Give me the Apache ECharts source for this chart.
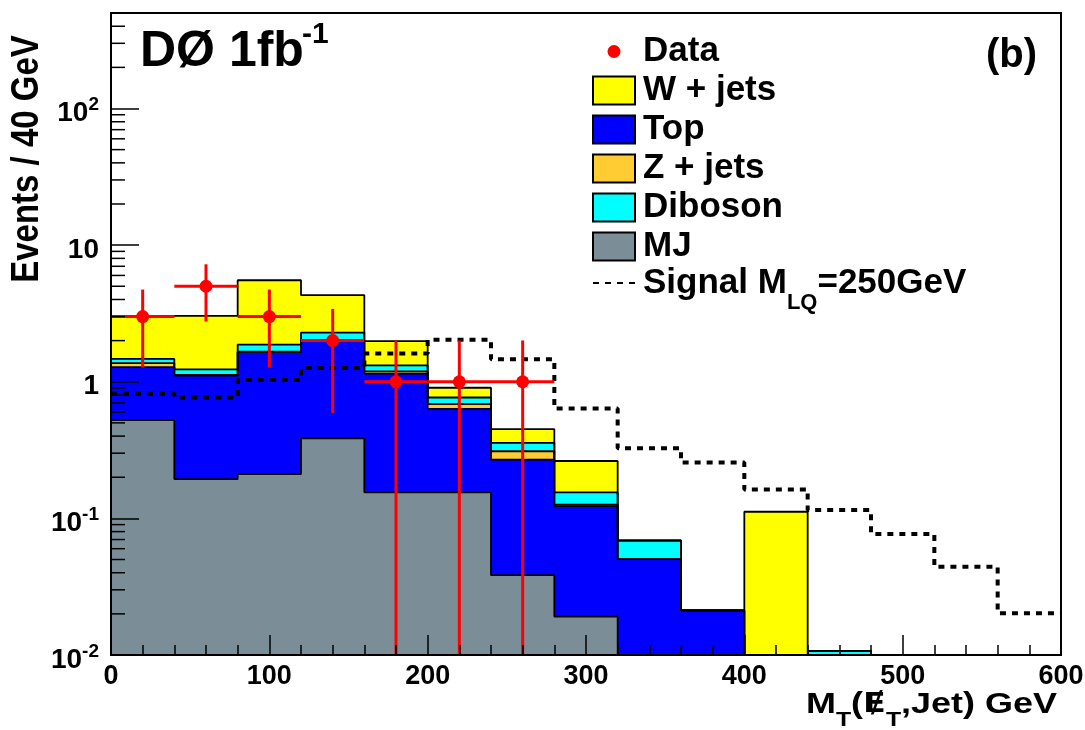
<!DOCTYPE html>
<html>
<head>
<meta charset="utf-8">
<script src="https://cdn.jsdelivr.net/npm/echarts@6/dist/echarts.min.js"></script>
<style>
  html, body { margin: 0; padding: 0; background: #fff; }
  #chart { width: 1085px; height: 730px; }
</style>
</head>
<body>
<div id="chart"></div>
<script>
// Bin edges of the transverse-mass histogram (GeV)
const binEdges = [0, 40, 80, 120, 160, 200, 240, 280, 320, 360, 400, 440, 480, 520, 560, 600];

// Background components, events per 40 GeV bin (stack order: bottom to top)
const mjBkg      = [0.524, 0.194, 0.211, 0.386, 0.155, 0.155, 0.0384, 0.0191, 0, 0, 0, 0, 0, 0, 0];
const topBkg     = [0.756, 0.916, 1.439, 1.594, 0.99, 0.479, 0.2306, 0.1039, 0.0503, 0.0212, 0, 0, 0, 0, 0];
const zjetsBkg   = [0.09, 0.01, 0.01, 0.01, 0.045, 0.052, 0.041, 0.003, 0, 0, 0, 0, 0, 0, 0];
const dibosonBkg = [0.10, 0.11, 0.21, 0.30, 0.127, 0.081, 0.047, 0.029, 0.0186, 0, 0, 0.0107, 0, 0, 0];
const wjetsBkg   = [1.56, 1.80, 3.66, 2.01, 0.663, 0.137, 0.093, 0.108, 0, 0, 0.1118, 0, 0, 0, 0];

// Leptoquark signal, M_LQ = 250 GeV
const signalLQ = [0.817, 0.767, 1.03, 1.26, 1.61, 2.03, 1.46, 0.636, 0.326, 0.256, 0.163, 0.115, 0.077, 0.0442, 0.0202];

// Observed data (bin centres, counts, statistical errors)
const dataX      = [20, 60, 100, 140, 180, 220, 260];
const dataCounts = [3, 5, 3, 2, 1, 1, 1];
const dataErrLo  = [1.73, 2.24, 1.73, 1.41, 1, 1, 1];
const dataErrHi  = [1.73, 2.24, 1.73, 1.41, 1, 1, 1];

// Minor tick values on the logarithmic axis
const yMinorTicks = [0.02, 0.03, 0.04, 0.05, 0.06, 0.07, 0.08, 0.09,
                     0.2, 0.3, 0.4, 0.5, 0.6, 0.7, 0.8, 0.9,
                     2, 3, 4, 5, 6, 7, 8, 9,
                     20, 30, 40, 50, 60, 70, 80, 90,
                     200, 300, 400];

const Y_MIN = 0.01, Y_MAX = 500;
const FONT = '"Liberation Sans", Arial, Helvetica, sans-serif';
const SIGNAL_NAME = 'Signal MLQ=250GeV';

const COLORS = {
  wjets: '#ffff00',
  top: '#0000ff',
  zjets: '#ffcc33',
  diboson: '#00ffff',
  mj: '#7b8e98',
  data: '#ff0000'
};

// cumulative stack levels
function addArrays(...arrs) {
  return arrs[0].map((_, i) => arrs.reduce((s, a) => s + a[i], 0));
}
const cumMJ  = mjBkg.slice();
const cumTop = addArrays(mjBkg, topBkg);
const cumZ   = addArrays(mjBkg, topBkg, zjetsBkg);
const cumDib = addArrays(mjBkg, topBkg, zjetsBkg, dibosonBkg);
const cumW   = addArrays(mjBkg, topBkg, zjetsBkg, dibosonBkg, wjetsBkg);

// histogram contour as step points at the left bin edges, closed at the last edge
function stepPoints(vals) {
  const pts = vals.map((v, i) => [binEdges[i], Math.max(v, Y_MIN)]);
  pts.push([binEdges[binEdges.length - 1], Math.max(vals[vals.length - 1], Y_MIN)]);
  return pts;
}

function stackLayer(name, vals, color) {
  return {
    type: 'line',
    name: name,
    data: stepPoints(vals),
    step: 'end',
    symbol: 'none',
    showSymbol: false,
    silent: true,
    z: 2,
    itemStyle: { color: color },
    lineStyle: { color: '#000', width: 1.8 },
    areaStyle: { color: color, opacity: 1, origin: 'start' }
  };
}

const halfBin = (binEdges[1] - binEdges[0]) / 2;

const chart = echarts.init(document.getElementById('chart'), null, { renderer: 'canvas' });

function yLabel(v) {
  const e = Math.round(Math.log10(v));
  if (Math.abs(Math.log10(v) - e) > 1e-6) return '';
  if (e === 0) return '{b|1}';
  if (e === 1) return '{b|10}';
  return '{b|10}{sup|' + e + '}';
}

const legendText = {
  fontFamily: FONT, fontWeight: 'bold', fontSize: 35, color: '#000', lineHeight: 28,
  padding: [0, 0, 0, 3],
  rich: {
    sub: { fontFamily: FONT, fontWeight: 'bold', fontSize: 22, color: '#000', lineHeight: 22, padding: [40, 0, 0, 0] }
  }
};

const option = {
  animation: false,
  backgroundColor: '#fff',
  grid: {
    left: 111, right: 24, top: 13, bottom: 75,
    show: true, borderColor: '#000', borderWidth: 2, backgroundColor: 'transparent',
    containLabel: false, outerBoundsMode: 'none'
  },
  xAxis: {
    type: 'value', min: 0, max: 600, interval: 100, z: 10,
    axisLine: { show: true, lineStyle: { color: '#000', width: 2 } },
    axisTick: { show: true, inside: true, length: 20, lineStyle: { color: '#000', width: 1.5 } },
    minorTick: { show: true, splitNumber: 5, length: 10, lineStyle: { color: '#000', width: 1.5 } },
    splitLine: { show: false },
    axisLabel: { fontFamily: FONT, fontWeight: 'bold', fontSize: 27, color: '#000', margin: 8 }
  },
  yAxis: {
    type: 'log', logBase: 10, min: Y_MIN, max: Y_MAX, z: 10,
    axisLine: { show: true, lineStyle: { color: '#000', width: 2 } },
    axisTick: { show: true, inside: true, length: 28, lineStyle: { color: '#000', width: 1.5 } },
    splitLine: { show: false },
    axisLabel: {
      formatter: yLabel, margin: 12, padding: [10, 0, 0, 0],
      rich: {
        b: { fontFamily: FONT, fontWeight: 'bold', fontSize: 28, color: '#000' },
        sup: { fontFamily: FONT, fontWeight: 'bold', fontSize: 19, color: '#000', padding: [0, 0, 17, 0] }
      }
    }
  },
  legend: [
    {
      orient: 'vertical', left: 592, top: 34, padding: 0,
      itemWidth: 42, itemHeight: 28, itemGap: 4,
      selectedMode: false,
      textStyle: legendText,
      data: [
        { name: 'Data', icon: 'path://M0,0M42,28M14.5,14a6.5,6.5 0 1,0 13,0a6.5,6.5 0 1,0 -13,0Z', itemStyle: { color: COLORS.data, borderWidth: 0 } },
        { name: 'W + jets', icon: 'rect', itemStyle: { color: COLORS.wjets, borderColor: '#000', borderWidth: 2 } },
        { name: 'Top', icon: 'rect', itemStyle: { color: COLORS.top, borderColor: '#000', borderWidth: 2 } },
        { name: 'Z + jets', icon: 'rect', itemStyle: { color: COLORS.zjets, borderColor: '#000', borderWidth: 2 } },
        { name: 'Diboson', icon: 'rect', itemStyle: { color: COLORS.diboson, borderColor: '#000', borderWidth: 2 } },
        { name: 'MJ', icon: 'rect', itemStyle: { color: COLORS.mj, borderColor: '#000', borderWidth: 2 } }
      ]
    },
    {
      orient: 'vertical', left: 592, top: 252, padding: 0,
      itemWidth: 42, itemHeight: 28,
      selectedMode: false,
      textStyle: legendText,
      formatter: function () { return 'Signal M{sub|LQ}=250GeV'; },
      data: [ { name: SIGNAL_NAME, itemStyle: { opacity: 0 } } ]
    }
  ],
  graphic: [
    { type: 'text', x: 140, y: 52, z: 20,
      style: { text: 'DØ 1fb', font: 'bold 50px ' + FONT, fill: '#000', align: 'left', verticalAlign: 'middle' } },
    { type: 'text', x: 302, y: 35, z: 20,
      style: { text: '-1', font: 'bold 30px ' + FONT, fill: '#000', align: 'left', verticalAlign: 'middle' } },
    { type: 'text', x: 1037, y: 56, z: 20,
      style: { text: '(b)', font: 'bold 40px ' + FONT, fill: '#000', align: 'right', verticalAlign: 'middle' } },
    { type: 'text', x: 28, y: 159, rotation: Math.PI / 2, scaleY: 1.15, z: 20,
      style: { text: 'Events / 40 GeV', font: 'bold 33px ' + FONT, fill: '#000', align: 'center', verticalAlign: 'middle' } },
    { type: 'text', x: 1057, y: 705, scaleX: 1.24, z: 20,
      style: {
        text: '{m|M}{s|T}{m|(}{e|Ɇ}{s|T}{m|,Jet) GeV}',
        align: 'right', verticalAlign: 'middle',
        rich: {
          m: { fontFamily: FONT, fontWeight: 'bold', fontSize: 29, lineHeight: 29, fill: '#000' },
          e: { fontFamily: '"DejaVu Sans", sans-serif', fontWeight: 'bold', fontSize: 27, lineHeight: 29, fill: '#000' },
          s: { fontFamily: FONT, fontWeight: 'bold', fontSize: 20, lineHeight: 20, padding: [30, 0, 0, 0], fill: '#000' }
        }
      } }
  ],
  series: [
    stackLayer('W + jets', cumW, COLORS.wjets),
    stackLayer('Diboson', cumDib, COLORS.diboson),
    stackLayer('Z + jets', cumZ, COLORS.zjets),
    stackLayer('Top', cumTop, COLORS.top),
    stackLayer('MJ', cumMJ, COLORS.mj),
    {
      type: 'line', name: SIGNAL_NAME,
      data: stepPoints(signalLQ), step: 'end', symbol: 'none', showSymbol: false, silent: true, z: 3,
      itemStyle: { color: '#000' },
      lineStyle: { color: '#000', width: 4, type: [6, 6], cap: 'butt' }
    },
    {
      type: 'custom', name: 'Data errors', silent: true, z: 4,
      data: dataX.map((x, i) => [x, dataCounts[i], dataErrLo[i], dataErrHi[i]]),
      encode: { x: 0, y: 1 },
      renderItem: function (params, api) {
        const x = api.value(0), y = api.value(1);
        const lo = Math.max(y - api.value(2), Y_MIN), hi = y + api.value(3);
        const pL = api.coord([x - halfBin, y]), pR = api.coord([x + halfBin, y]);
        const pLo = api.coord([x, lo]), pHi = api.coord([x, hi]);
        const st = { stroke: COLORS.data, lineWidth: 3 };
        return {
          type: 'group',
          children: [
            { type: 'line', shape: { x1: pL[0], y1: pL[1], x2: pR[0], y2: pR[1] }, style: st },
            { type: 'line', shape: { x1: pLo[0], y1: pLo[1], x2: pHi[0], y2: pHi[1] }, style: st }
          ]
        };
      }
    },
    {
      type: 'scatter', name: 'Data', z: 5, silent: true,
      data: dataX.map((x, i) => [x, dataCounts[i]]),
      symbol: 'circle', symbolSize: 13,
      itemStyle: { color: COLORS.data, opacity: 1 }
    },
    {
      type: 'custom', name: 'y minor ticks', silent: true, z: 12,
      data: yMinorTicks.map(v => [0, v]),
      encode: { x: 0, y: 1 },
      renderItem: function (params, api) {
        const p = api.coord([api.value(0), api.value(1)]);
        return { type: 'line', shape: { x1: p[0], y1: p[1], x2: p[0] + 14, y2: p[1] },
                 style: { stroke: '#000', lineWidth: 1.5 } };
      }
    }
  ]
};

chart.setOption(option);
</script>
</body>
</html>
